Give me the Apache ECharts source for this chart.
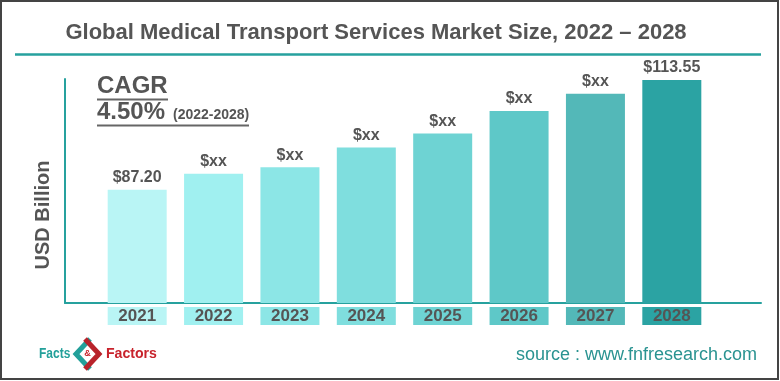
<!DOCTYPE html>
<html>
<head>
<meta charset="utf-8">
<script src="https://cdn.jsdelivr.net/npm/echarts@6/dist/echarts.min.js"></script>
<style>
html,body{margin:0;padding:0;background:#fff;}
#chart{width:780px;height:381px;}
</style>
</head>
<body>
<div id="chart"></div>
<script>
// ---- data ----
var years = ['2021', '2022', '2023', '2024', '2025', '2026', '2027', '2028'];
var values = [87.20, 91.0, 92.6, 97.3, 100.7, 106.1, 110.2, 113.55];
var valueLabels = ['$87.20', '$xx', '$xx', '$xx', '$xx', '$xx', '$xx', '$113.55'];
var barColors = ['#b9f5f5', '#a0f0f0', '#8ce6e6', '#7fdede', '#6ed3d3', '#5ec8c8', '#53b8b8', '#2ba3a3'];
var titleText = 'Global Medical Transport Services Market Size, 2022 \u2013 2028';
var yAxisName = 'USD Billion';
var sourceText = 'source : www.fnfresearch.com';

var textColor = '#555555';
var teal = '#26a19e';

var rich = {};
years.forEach(function (y, i) {
  rich['c' + i] = {
    width: 59, height: 18, lineHeight: 18, align: 'center',
    backgroundColor: barColors[i], color: textColor,
    fontSize: 17, fontWeight: 'bold', fontFamily: 'Liberation Sans, Arial, sans-serif'
  };
});

var chart = echarts.init(document.getElementById('chart'), null, {renderer: 'canvas'});
var option = {
  backgroundColor: '#ffffff',
  animation: false,
  grid: [
    {left: 99, right: 70, top: 53, bottom: 78},
    {left: 65, right: 19, top: 79, bottom: 78}
  ],
  xAxis: [
    {
      type: 'category', gridIndex: 0, data: years,
      axisLine: {show: false}, axisTick: {show: false},
      axisLabel: {
        margin: 4, interval: 0,
        formatter: function (v) { return '{c' + years.indexOf(v) + '|' + v + '}'; },
        rich: rich
      }
    },
    {
      type: 'value', gridIndex: 1, min: 0, max: 1,
      axisLine: {show: true, lineStyle: {color: teal, width: 2}},
      axisTick: {show: false}, axisLabel: {show: false}, splitLine: {show: false}
    }
  ],
  yAxis: [
    {
      type: 'value', gridIndex: 0, min: 60, max: 120,
      axisLine: {show: false}, axisTick: {show: false},
      axisLabel: {show: false}, splitLine: {show: false}
    },
    {
      type: 'value', gridIndex: 1, min: 0, max: 1,
      axisLine: {show: true, lineStyle: {color: teal, width: 2}},
      axisTick: {show: false}, axisLabel: {show: false}, splitLine: {show: false}
    }
  ],
  series: [{
    type: 'bar', xAxisIndex: 0, yAxisIndex: 0,
    barWidth: 59,
    data: values.map(function (v, i) {
      return {value: v, itemStyle: {color: barColors[i]}};
    }),
    label: {
      show: true, position: 'top', distance: 4,
      formatter: function (p) { return valueLabels[p.dataIndex]; },
      color: textColor, fontSize: 16, fontWeight: 'bold',
      fontFamily: 'Liberation Sans, Arial, sans-serif'
    }
  }],
  graphic: [
    {type: 'rect', shape: {x: 1, y: 1, width: 777, height: 378}, style: {fill: 'none', stroke: '#444444', lineWidth: 2}, z: 100},
    {type: 'text', x: 376, y: 33, style: {text: titleText, x: 0, y: 0, align: 'center', verticalAlign: 'middle', fill: textColor, font: 'bold 22px "Liberation Sans", Arial, sans-serif'}},
    {type: 'line', shape: {x1: 15, y1: 54.5, x2: 761, y2: 54.5}, style: {stroke: teal, lineWidth: 2.5}},
    {type: 'text', x: 43, y: 215, rotation: Math.PI / 2, style: {text: yAxisName, align: 'center', verticalAlign: 'middle', fill: textColor, font: 'bold 20px "Liberation Sans", Arial, sans-serif'}},
    {type: 'text', x: 97, y: 86, style: {text: 'CAGR', align: 'left', verticalAlign: 'middle', fill: textColor, font: 'bold 24px "Liberation Sans", Arial, sans-serif'}},
    {type: 'line', shape: {x1: 97, y1: 99.5, x2: 168, y2: 99.5}, style: {stroke: '#666666', lineWidth: 2}},
    {type: 'text', x: 97, y: 112, style: {text: '4.50%', align: 'left', verticalAlign: 'middle', fill: textColor, font: 'bold 24px "Liberation Sans", Arial, sans-serif'}},
    {type: 'text', x: 173, y: 115, style: {text: '(2022-2028)', align: 'left', verticalAlign: 'middle', fill: textColor, font: 'bold 14px "Liberation Sans", Arial, sans-serif'}},
    {type: 'line', shape: {x1: 97, y1: 125.5, x2: 249, y2: 125.5}, style: {stroke: '#666666', lineWidth: 2}},
    {type: 'text', x: 757, y: 355, style: {text: sourceText, align: 'right', verticalAlign: 'middle', fill: '#2a9391', font: '18px "Liberation Sans", Arial, sans-serif'}},
    // logo
    {type: 'text', x: 39, y: 354, scaleX: 0.8, style: {text: 'Facts', align: 'left', verticalAlign: 'middle', fill: '#23a09a', font: 'bold 15px "Liberation Sans", Arial, sans-serif'}},
    {type: 'text', x: 106, y: 354, scaleX: 0.94, style: {text: 'Factors', align: 'left', verticalAlign: 'middle', fill: '#c8232c', font: 'bold 15px "Liberation Sans", Arial, sans-serif'}},
    {type: 'polyline', shape: {points: [[90, 339], [76, 354], [90, 369]]}, style: {stroke: '#23a09a', lineWidth: 5, fill: 'none'}},
    {type: 'polyline', shape: {points: [[85, 339], [99, 354], [85, 369]]}, style: {stroke: '#b8232b', lineWidth: 5, fill: 'none'}},
    {type: 'text', x: 87.5, y: 354, style: {text: '&', align: 'center', verticalAlign: 'middle', fill: '#c8232c', font: 'bold 9px Arial, sans-serif'}}
  ]
};
chart.setOption(option);
</script>
</body>
</html>
